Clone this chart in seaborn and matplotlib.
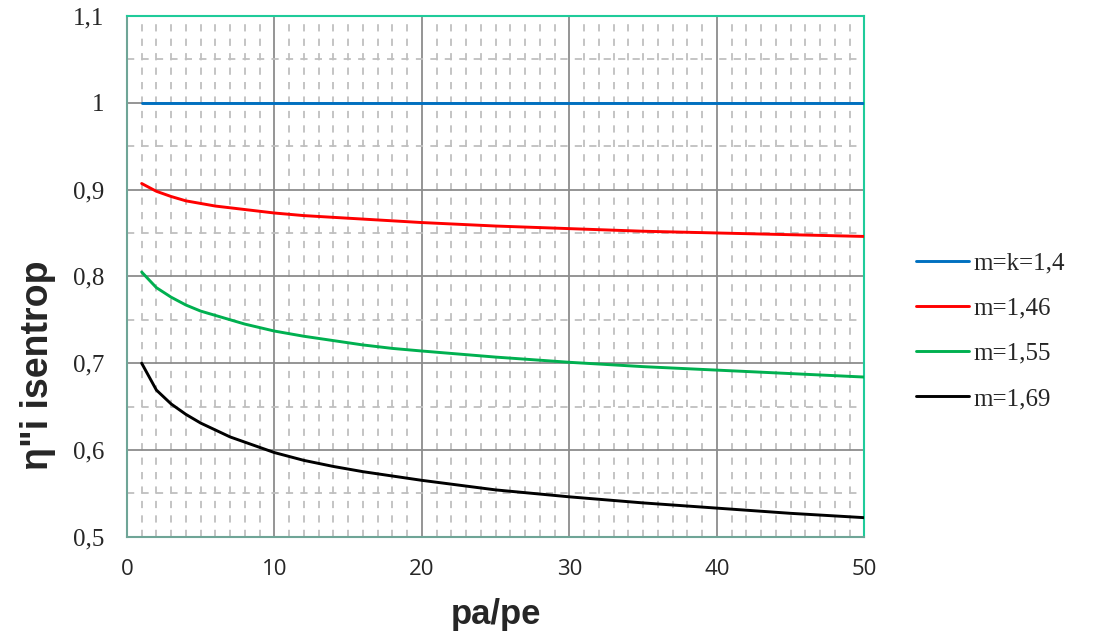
#!/usr/bin/env python3
"""Isentropic efficiency vs pressure ratio for several polytropic exponents."""

import matplotlib
matplotlib.use("Agg")
import matplotlib.pyplot as plt
import matplotlib.ticker as ticker
import pandas as pd
import seaborn as sns

# Pressure ratio pa/pe
PRESSURE_RATIO = [1, 2, 3, 4, 5, 6, 7, 8, 9, 10, 12, 14, 16, 18, 20, 25, 30, 35, 40, 45, 50]

# Efficiency per exponent m
ETA_M140 = [1.0] * 21
ETA_M146 = [0.907, 0.898, 0.892, 0.887, 0.884, 0.881, 0.879, 0.877, 0.875, 0.873,
            0.870, 0.868, 0.866, 0.864, 0.862, 0.858, 0.855, 0.852, 0.850, 0.848, 0.846]
ETA_M155 = [0.805, 0.787, 0.776, 0.767, 0.760, 0.755, 0.750, 0.745, 0.741, 0.737,
            0.731, 0.726, 0.721, 0.717, 0.714, 0.707, 0.701, 0.696, 0.692, 0.688, 0.684]
ETA_M169 = [0.700, 0.669, 0.653, 0.641, 0.631, 0.623, 0.615, 0.609, 0.603, 0.597,
            0.588, 0.581, 0.575, 0.570, 0.565, 0.554, 0.546, 0.539, 0.533, 0.527, 0.522]

SERIES = ["m=k=1,4", "m=1,46", "m=1,55", "m=1,69"]
COLORS = ["#0070C0", "#FF0000", "#00B050", "#000000"]

X_TICKS = [0, 10, 20, 30, 40, 50]
Y_TICKS = [0.5, 0.6, 0.7, 0.8, 0.9, 1.0, 1.1]
Y_LABELS = ["0,5", "0,6", "0,7", "0,8", "0,9", "1", "1,1"]


def main():
    sns.set_style("white")

    df = pd.DataFrame({
        "pa/pe": PRESSURE_RATIO * 4,
        "eta": ETA_M140 + ETA_M146 + ETA_M155 + ETA_M169,
        "series": [s for s in SERIES for _ in PRESSURE_RATIO],
    })

    fig = plt.figure(figsize=(10.94, 6.39), dpi=100)
    ax = fig.add_axes([0.116, 0.16, 0.674, 0.815])

    sns.lineplot(
        data=df, x="pa/pe", y="eta", hue="series", hue_order=SERIES,
        palette=COLORS, linewidth=2.1, ax=ax, zorder=3,
    )

    ax.set_xlim(0, 50)
    ax.set_ylim(0.5, 1.1)

    # Grid: solid major, dashed minor
    ax.xaxis.set_major_locator(ticker.FixedLocator(X_TICKS))
    ax.xaxis.set_minor_locator(ticker.MultipleLocator(1))
    ax.yaxis.set_major_locator(ticker.FixedLocator(Y_TICKS))
    ax.yaxis.set_minor_locator(ticker.MultipleLocator(0.05))
    ax.grid(True, which="major", color="#8C8C8C", linewidth=1.3, linestyle="-", zorder=1)
    ax.grid(True, which="minor", color="#BFBFBF", linewidth=1.3,
            linestyle=(0, (4, 4)), zorder=1)
    ax.set_axisbelow(True)
    ax.tick_params(which="both", length=0)

    ax.set_yticklabels(Y_LABELS, fontfamily="Liberation Serif", fontsize=18)
    ax.set_xticklabels([str(t) for t in X_TICKS], fontfamily="Open Sans", fontsize=16)
    ax.tick_params(axis="x", pad=16)
    ax.tick_params(axis="y", pad=16)

    ax.set_xlabel("pa/pe", fontfamily="Liberation Sans", fontsize=25,
                  fontweight="bold")
    ax.xaxis.set_label_coords(0.5, -0.118)
    ax.set_ylabel('η"i isentrop', family=["Liberation Sans", "DejaVu Sans"],
                  fontsize=27, fontweight="bold")
    ax.yaxis.set_label_coords(-0.096, 0.33)

    for side in ("top", "right"):
        ax.spines[side].set_color("#1FCB9A")
        ax.spines[side].set_linewidth(1.5)
    for side in ("left", "bottom"):
        ax.spines[side].set_color("#6FA597")
        ax.spines[side].set_linewidth(1.5)

    leg = ax.legend(
        loc="center left", bbox_to_anchor=(1.040, 0.395), frameon=False,
        prop={"family": "Liberation Serif", "size": 18},
        handlelength=2.1, handletextpad=0.2, labelspacing=0.91,
    )
    for line in leg.get_lines():
        line.set_linewidth(2.1)

    fig.savefig("out.png", dpi=100)
    plt.close(fig)


if __name__ == "__main__":
    main()
